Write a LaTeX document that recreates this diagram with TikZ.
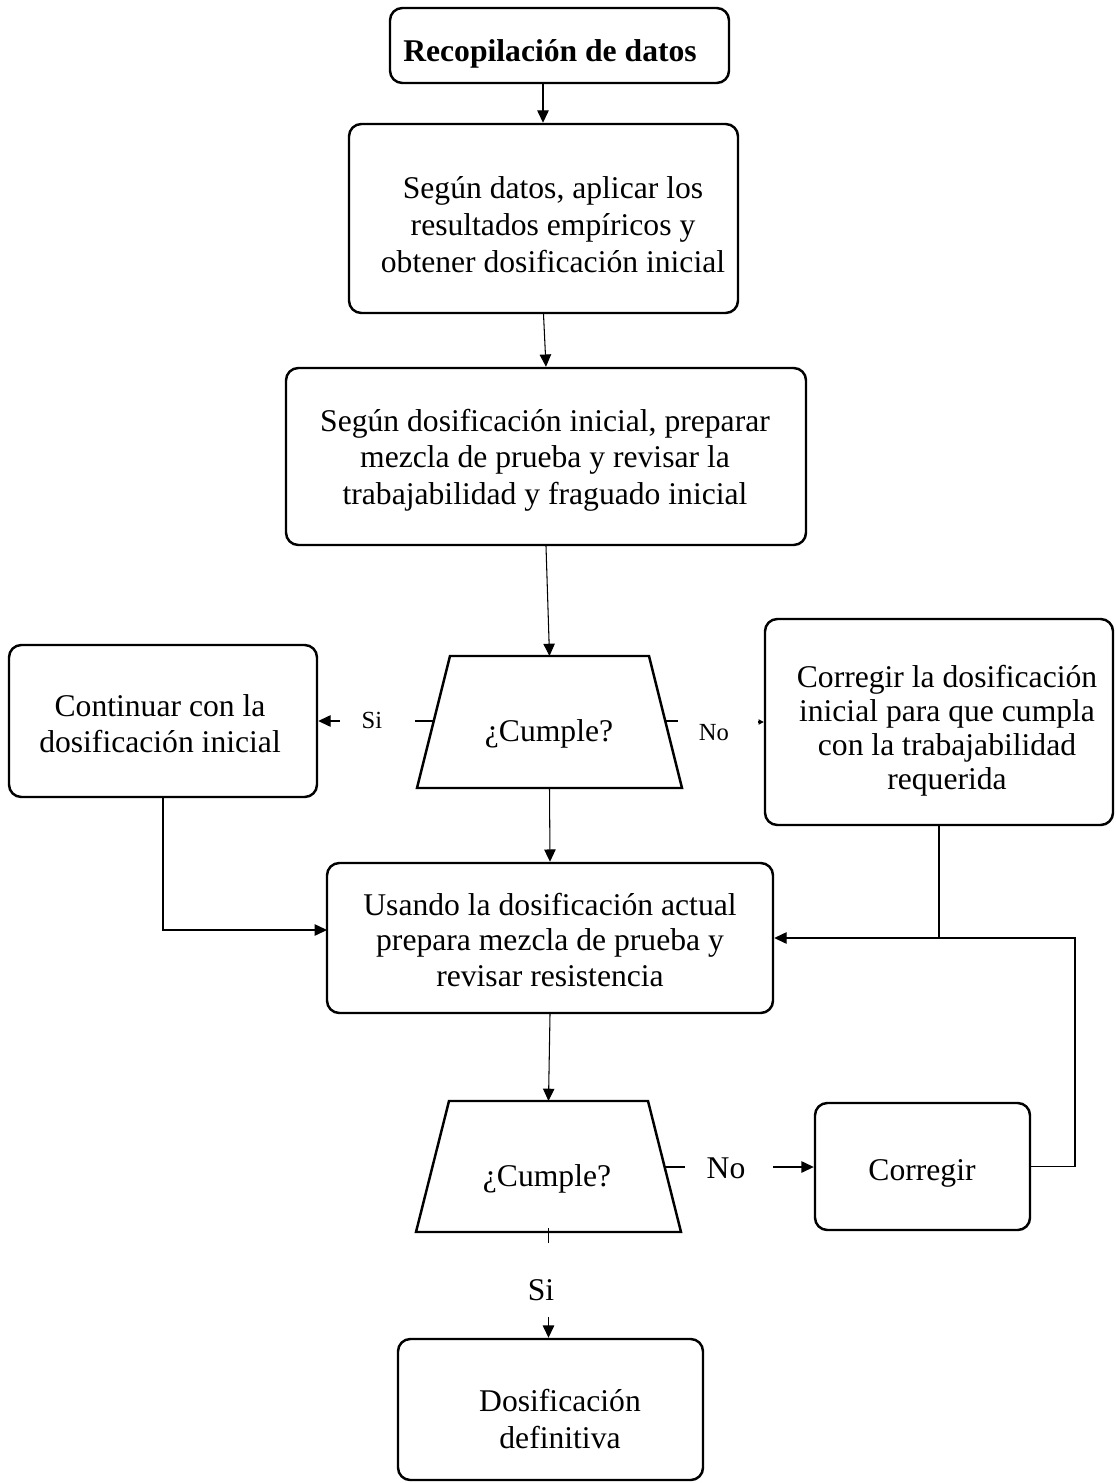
\documentclass[tikz,border=0pt]{standalone}
\usepackage{fontspec}
\setmainfont{Liberation Serif}
\usetikzlibrary{arrows.meta,fit,calc}
% centred lines with a fixed line pitch; the baseline is that of the first line
\newcommand{\mlines}[2]{\vtop{\baselineskip=#1\lineskiplimit=-1000pt\let\\\cr\halign{\hfil##\hfil\cr#2\crcr}}}
\begin{document}
\begin{tikzpicture}[x=0.02cm,y=-0.02cm,
  box/.style={draw,rounded corners=7pt,line width=1.4pt,inner sep=0pt},
  txt/.style={anchor=base,inner sep=0pt,font=\fontsize{18}{18}\selectfont},
  small/.style={txt,font=\fontsize{14}{14}\selectfont},
  conn/.style={line width=0.6pt},
  arr/.style={conn,-{Triangle[length=7pt,width=6.5pt]}},
  tinyarr/.style={conn,-{Triangle[length=3pt,width=3pt]}},
  trap/.style={draw,line width=1.4pt,line join=miter}]
\useasboundingbox (0,0) rectangle (1115,1483);

% ---- boxes ----
\node[box, fit={(390,8) (729,83)}] (b1) {};
\node[txt, font=\fontsize{18}{18}\selectfont\bfseries] (b1t) at (550,62) {Recopilación de datos};

\node[box, fit={(349,124) (738,313)}] (b2) {};
\node[txt] (b2t) at (553,199) {\mlines{21pt}{Según datos, aplicar los\\resultados empíricos y\\obtener dosificación inicial}};

\node[box, fit={(286,368) (806,545)}] (b3) {};
\node[txt] (b3t) at (545,431) {\mlines{21pt}{Según dosificación inicial, preparar\\mezcla de prueba y revisar la\\trabajabilidad y fraguado inicial}};

\node[box, fit={(9,645) (317,797)}] (b0) {};
\node[txt] (b0t) at (160,716) {\mlines{21pt}{Continuar con la\\dosificación inicial}};

\node[box, fit={(765,619) (1113,825)}] (r1) {};
\node[txt] (r1t) at (947,687) {\mlines{19.4pt}{Corregir la dosificación\\inicial para que cumpla\\con la trabajabilidad\\requerida}};

\node[box, fit={(327,863) (773,1013)}] (bc) {};
\node[txt] (bct) at (550,915) {\mlines{20.4pt}{Usando la dosificación actual\\prepara mezcla de prueba y\\revisar resistencia}};

\node[box, fit={(815,1103) (1030,1230)}] (cg) {};
\node[txt] (cgt) at (922,1180) {Corregir};

\node[box, fit={(398,1339) (703,1480)}] (dz) {};
\node[txt] (dzt) at (560,1411) {\mlines{21.3pt}{Dosificación\\definitiva}};

% ---- decision trapezoids ----
\draw[trap] (450,656) -- (649,656) -- (682,788) -- (417,788) -- cycle;
\node[txt] (q1) at (549,741) {¿Cumple?};
\coordinate (q1n) at (549.5,656);
\coordinate (q1s) at (549.5,788);
\coordinate (q1w) at (433.8,721);
\coordinate (q1e) at (665.2,721);

\draw[trap] (449,1101) -- (648,1101) -- (681,1232) -- (416,1232) -- cycle;
\node[txt] (q2) at (547,1186) {¿Cumple?};
\coordinate (q2n) at (548.5,1101);
\coordinate (q2e) at (664.6,1167);

% ---- branch labels ----
\node[small] (si1) at (372,728) {Si};
\node[small] (no1) at (714,740) {No};
\node[txt] (no2) at (726,1178) {No};
\node[txt] (si2) at (541,1300) {Si};

% ---- connectors ----
\coordinate (a1) at (543,83);
\draw[arr] (a1) -- (a1 |- b2.north);
\draw[arr] (b2.south) -- (b3.north);
\draw[arr] (b3.south) -- (q1n);

% first decision: Si to the left, No to the right
\coordinate (s1a) at (415,721);
\coordinate (s1b) at (340,721);
\draw[conn] (q1w) -- (s1a);
\draw[arr] (s1b) -- (s1b -| b0.east);
\coordinate (n1a) at (678,721);
\coordinate (n1b) at (758,722);
\draw[conn] (q1e) -- (n1a);
\draw[tinyarr] (n1b) -- (n1b -| r1.west);

\draw[arr] (q1s) -- (bc.north);
\coordinate (inL) at (327,930);
\draw[arr] (b0.south) |- (inL);
\draw[conn] (r1.south) -- (r1.south |- bc.east);
\coordinate (loop) at (1075,938);
\draw[arr] (cg.east) -| (loop) -- (bc.east);

% second decision
\draw[arr] (bc.south) -- (q2n);
\coordinate (n2a) at (685,1167);
\coordinate (n2b) at (773,1167);
\draw[conn] (q2e) -- (n2a);
\draw[arr] (n2b) -- (n2b -| cg.west);
\coordinate (s2a) at (548.5,1228);
\coordinate (s2b) at (548.5,1243);
\coordinate (s2c) at (548.5,1317);
\draw[conn] (s2a) -- (s2b);
\draw[arr] (s2c) -- (s2c |- dz.north);
\end{tikzpicture}
\end{document}
